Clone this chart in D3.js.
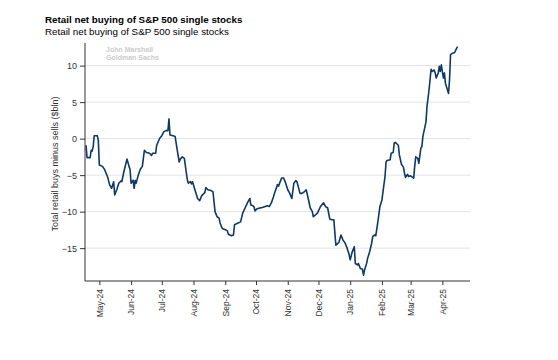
<!DOCTYPE html>
<html><head><meta charset="utf-8">
<script src="https://cdn.jsdelivr.net/npm/d3@7"></script>
<style>body{margin:0;background:#fff;font-family:"Liberation Sans",Arial,sans-serif;}</style>
</head><body><svg id="c" width="558" height="360"></svg>
<script>
const dates = ["2024-04-18","2024-04-19","2024-04-22","2024-04-23","2024-04-24","2024-04-25","2024-04-26","2024-04-29","2024-04-30",
"2024-05-01","2024-05-04","2024-05-06","2024-05-09","2024-05-11","2024-05-13","2024-05-15","2024-05-16","2024-05-18","2024-05-20","2024-05-22","2024-05-23","2024-05-25","2024-05-28","2024-05-30","2024-05-31",
"2024-06-01","2024-06-03","2024-06-04","2024-06-05","2024-06-06","2024-06-08","2024-06-10","2024-06-12","2024-06-14","2024-06-16","2024-06-19","2024-06-21","2024-06-22","2024-06-25","2024-06-26","2024-06-29",
"2024-07-01","2024-07-03","2024-07-05","2024-07-07","2024-07-08","2024-07-09","2024-07-12","2024-07-14","2024-07-16","2024-07-18","2024-07-19","2024-07-21","2024-07-23","2024-07-26","2024-07-27","2024-07-29","2024-07-30","2024-07-31",
"2024-08-03","2024-08-05","2024-08-07","2024-08-09","2024-08-12","2024-08-13","2024-08-15","2024-08-18","2024-08-20","2024-08-22","2024-08-24","2024-08-26","2024-08-27","2024-08-29","2024-08-31",
"2024-09-03","2024-09-04","2024-09-07","2024-09-09","2024-09-10","2024-09-13","2024-09-16","2024-09-18","2024-09-21","2024-09-23","2024-09-25","2024-09-26","2024-09-28","2024-09-29","2024-09-30",
"2024-10-02","2024-10-05","2024-10-08","2024-10-10","2024-10-12","2024-10-14","2024-10-16","2024-10-18","2024-10-19","2024-10-22","2024-10-23","2024-10-26","2024-10-28","2024-10-30",
"2024-11-01","2024-11-03","2024-11-05","2024-11-07","2024-11-09","2024-11-10","2024-11-13","2024-11-15","2024-11-17","2024-11-19","2024-11-21","2024-11-23","2024-11-25","2024-11-26","2024-11-30",
"2024-12-03","2024-12-06","2024-12-08","2024-12-10","2024-12-12","2024-12-14","2024-12-16","2024-12-18","2024-12-21","2024-12-23","2024-12-25","2024-12-27","2024-12-29","2024-12-31",
"2025-01-01","2025-01-03","2025-01-05","2025-01-06","2025-01-08","2025-01-09","2025-01-11","2025-01-13","2025-01-14","2025-01-15","2025-01-17","2025-01-18","2025-01-20","2025-01-22","2025-01-23","2025-01-25","2025-01-26","2025-01-28","2025-01-30",
"2025-02-01","2025-02-02","2025-02-04","2025-02-05","2025-02-06","2025-02-09","2025-02-10","2025-02-12","2025-02-13","2025-02-14","2025-02-17","2025-02-18","2025-02-20","2025-02-22","2025-02-23","2025-02-24","2025-02-26","2025-02-27",
"2025-03-01","2025-03-03","2025-03-04","2025-03-05","2025-03-06","2025-03-08","2025-03-09","2025-03-11","2025-03-12","2025-03-13","2025-03-16","2025-03-17","2025-03-19","2025-03-21","2025-03-22","2025-03-24","2025-03-25","2025-03-26","2025-03-28","2025-03-29","2025-03-30","2025-03-31",
"2025-04-02","2025-04-03","2025-04-04","2025-04-07","2025-04-08","2025-04-09","2025-04-11","2025-04-13","2025-04-15","2025-04-16"];
const values = [-0.9,-2.6,-2.6,-1.6,-1.7,-1.1,0.4,0.4,-0.2,
-3.6,-3.8,-4.2,-5.2,-6.3,-6.8,-5.9,-7.7,-7.0,-6.1,-5.8,-5.9,-4.5,-2.8,-3.8,-4.2,
-6.1,-5.7,-6.8,-5.7,-6.1,-5.0,-4.2,-3.8,-1.6,-1.9,-2.0,-2.3,-2.0,-2.0,-0.9,0.05,
0.4,0.96,1.1,1.1,2.7,0.5,0.4,0.3,-1.5,-3.2,-2.8,-2.5,-2.7,-5.7,-6.1,-5.9,-6.2,-5.9,
-7.3,-8.2,-8.5,-7.8,-7.4,-6.7,-7.0,-7.1,-7.3,-10.0,-10.7,-10.9,-11.6,-12.3,-12.4,
-12.6,-13.1,-13.3,-13.2,-11.8,-11.6,-11.4,-10.2,-9.3,-8.7,-8.2,-9.1,-9.2,-9.3,-9.9,
-9.6,-9.5,-9.4,-9.3,-9.2,-9.3,-8.8,-8.0,-7.5,-6.3,-6.5,-5.4,-5.4,-6.1,
-7.0,-7.5,-8.2,-6.1,-5.75,-5.9,-7.5,-7.5,-7.3,-7.0,-8.2,-9.5,-10.0,-10.7,-10.2,
-9.3,-8.8,-9.3,-9.5,-11.0,-11.1,-11.1,-14.6,-14.2,-13.2,-13.9,-14.3,-15.0,-15.9,
-16.6,-15.5,-14.8,-17.1,-17.3,-17.1,-17.8,-17.9,-18.7,-18.0,-17.1,-16.4,-15.5,-14.3,-13.4,-13.2,-13.3,-11.4,-9.3,
-8.4,-7.3,-5.2,-3.2,-3.0,-2.9,-2.0,-1.9,-0.6,-0.5,-0.9,-2.2,-3.5,-3.9,-4.7,-5.3,-4.9,-5.2,
-5.1,-5.3,-5.4,-3.8,-2.5,-2.7,-3.4,-1.3,-1.1,0.3,2.3,4.4,6.7,9.5,9.2,9.4,9.0,8.3,9.0,9.9,9.2,10.1,
8.3,9.0,7.6,6.2,8.0,11.5,11.7,11.8,12.4,12.6];
const yTicks = [10, 5, 0, -5, -10, -15];
const xTickMonths = ["2024-05-01","2024-06-01","2024-07-01","2024-08-01","2024-09-01","2024-10-01","2024-11-01","2024-12-01","2025-01-01","2025-02-01","2025-03-01","2025-04-01"];
const titleText = "Retail net buying of S&P 500 single stocks";
const subtitleText = "Retail net buying of S&P 500 single stocks";
const yLabel = "Total retail buys minus sells ($bln)";
const watermark = ["John Marshall", "Goldman Sachs"];

const parse = d3.utcParse("%Y-%m-%d");
const data = dates.map((d, i) => ({date: parse(d), value: values[i]}));
const svg = d3.select("#c");
const m = {left: 85, right: 470, top: 43, bottom: 281};
const x = d3.scaleUtc().domain([parse("2024-04-17"), parse("2025-04-28")]).range([m.left, m.right]);
const y = d3.scaleLinear().domain([-19.5, 13.1]).range([m.bottom, m.top]);

svg.append("text").attr("x", 45).attr("y", 23).attr("font-size", 9.8).attr("font-weight", "bold").attr("fill", "#000").text(titleText);
svg.append("text").attr("x", 45).attr("y", 34.5).attr("font-size", 9.8).attr("fill", "#000").text(subtitleText);

// gridlines
svg.append("g").selectAll("line").data(yTicks).join("line")
  .attr("x1", m.left).attr("x2", m.right).attr("y1", d => y(d)).attr("y2", d => y(d))
  .attr("stroke", "#e3e3e3").attr("stroke-width", 1);

// watermark
svg.append("g").selectAll("text").data(watermark).join("text")
  .attr("x", 106).attr("y", (d, i) => 52 + i * 8).attr("font-size", 7).attr("font-weight", "bold").attr("fill", "#cccccc").text(d => d);

const yAxis = svg.append("g").attr("transform", `translate(${m.left},0)`)
  .call(d3.axisLeft(y).tickValues(yTicks).tickSize(5).tickPadding(3).tickFormat(d => d < 0 ? "\u2212" + Math.abs(d) : d));
yAxis.select(".domain").attr("d", `M0,${m.top}V${m.bottom}`).attr("stroke", "#333");
yAxis.selectAll(".tick line").attr("stroke", "#333");
yAxis.selectAll("text").attr("font-size", 9).attr("fill", "#333").attr("font-family", "Liberation Sans, Arial, sans-serif");

const xAxis = svg.append("g").attr("transform", `translate(0,${m.bottom})`)
  .call(d3.axisBottom(x).tickValues(xTickMonths.map(parse)).tickSize(4).tickFormat(d3.utcFormat("%b-%y")));
xAxis.select(".domain").attr("d", `M${m.left},0H${m.right}`).attr("stroke", "#333");
xAxis.selectAll(".tick line").attr("stroke", "#333");
xAxis.selectAll("text").attr("font-size", 8.5).attr("fill", "#333").attr("font-family", "Liberation Sans, Arial, sans-serif")
  .attr("transform", "rotate(-90)").attr("text-anchor", "end").attr("x", -8).attr("y", 0).attr("dy", "0.32em");

svg.append("text").attr("transform", `translate(58,${(m.top + m.bottom) / 2 + 2}) rotate(-90)`)
  .attr("text-anchor", "middle").attr("font-size", 9).attr("fill", "#333").text(yLabel);

svg.append("path").datum(data)
  .attr("fill", "none").attr("stroke", "#0d3a64").attr("stroke-width", 1.6).attr("stroke-linejoin", "round")
  .attr("d", d3.line().x(d => x(d.date)).y(d => y(d.value)));
</script></body></html>
